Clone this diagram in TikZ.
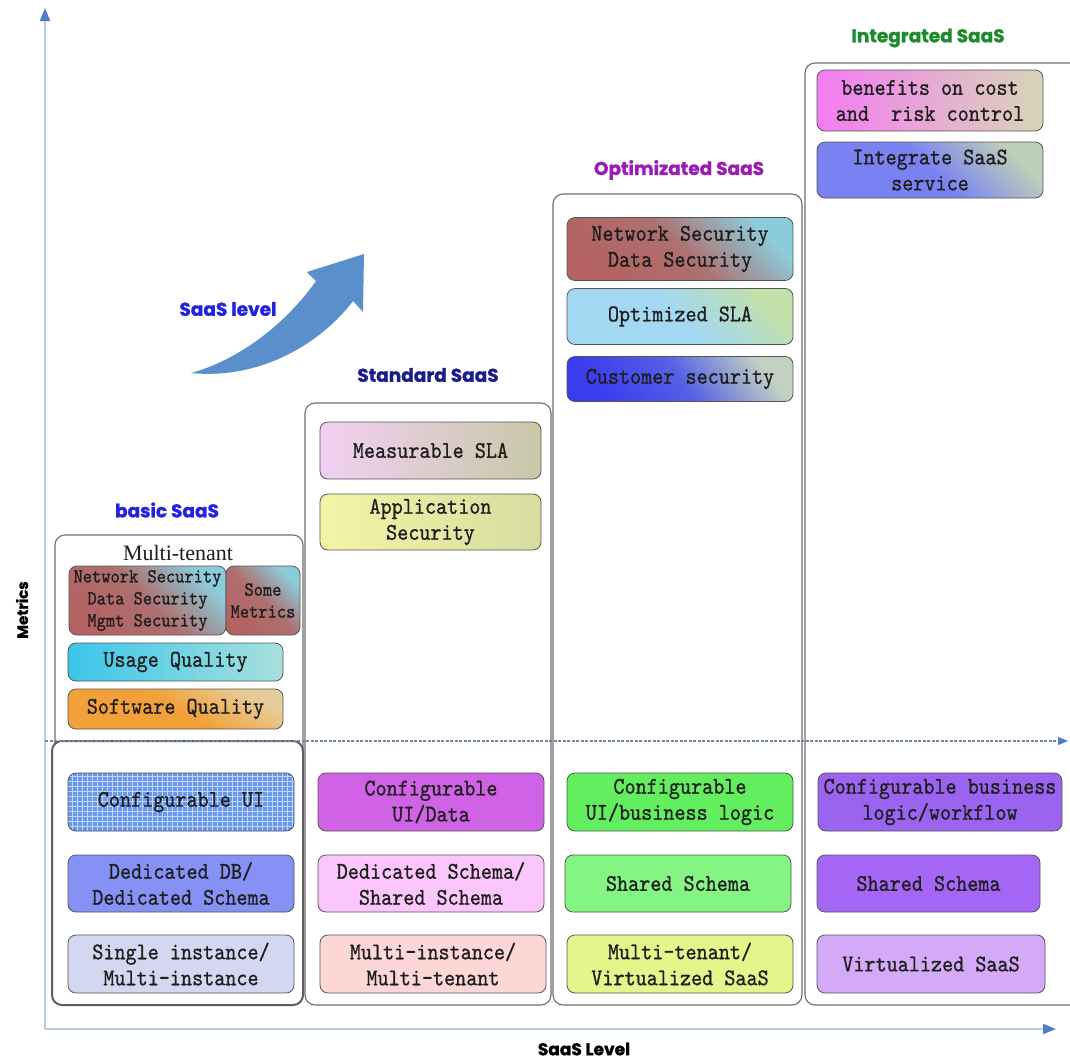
\documentclass[tikz,border=0pt]{standalone}
\usepackage{fontspec}
\usetikzlibrary{arrows.meta}

\newfontfamily\boxfont{lmmono10-regular.otf}[FakeStretch=0.88, FakeBold=0.8]
\newfontfamily\labelserif{Liberation Serif}
\newfontfamily\headfont{Poppins}[BoldFeatures={FakeBold=1.2}]

\newcommand\boxtext{\boxfont\fontsize{24}{26}\selectfont}
\newcommand\smalltext{\boxfont\fontsize{20}{22}\selectfont}
\newcommand\headtext{\headfont\bfseries\fontsize{18.5}{20}\selectfont}

% line and text colours
\definecolor{axisline}{HTML}{B7CAE6}
\definecolor{axistip}{HTML}{4F7EC2}
\definecolor{dashline}{HTML}{6F86A6}
\definecolor{framegray}{HTML}{6E6E6E}
\definecolor{lowerframe}{HTML}{5E5E5E}
\definecolor{cardedge}{HTML}{555555}
\definecolor{ink}{HTML}{1E1E1E}
\definecolor{hblue}{HTML}{2222E0}
\definecolor{hnavy}{HTML}{1C1C8C}
\definecolor{hpurple}{HTML}{9A1CB4}
\definecolor{hgreen}{HTML}{1E8A2E}
\definecolor{arrowblue}{HTML}{5A8FCC}
% shaded card colours
\definecolor{netbrown}{HTML}{B46262}
\definecolor{netblue}{HTML}{8CCCDA}
\definecolor{netmid}{HTML}{AE7070}
\definecolor{usageA}{HTML}{3AC6EA}
\definecolor{usageB}{HTML}{A8E0DE}
\definecolor{softA}{HTML}{F2A038}
\definecolor{softB}{HTML}{E6CE9C}
\definecolor{measA}{HTML}{F2D0F4}
\definecolor{measB}{HTML}{C8C8A6}
\definecolor{appA}{HTML}{F4F4A6}
\definecolor{appB}{HTML}{D6DDA0}
\definecolor{slaA}{HTML}{A2D8F2}
\definecolor{slaB}{HTML}{C2E0AA}
\definecolor{custA}{HTML}{3A3CF0}
\definecolor{custB}{HTML}{C2D2C2}
\definecolor{custM}{HTML}{5560E6}
\definecolor{benA}{HTML}{F47CF2}
\definecolor{benB}{HTML}{D8D6B6}
\definecolor{integA}{HTML}{7A82F2}
\definecolor{integB}{HTML}{BCCFB8}
% flat card colours
\definecolor{cuiblue}{HTML}{6699EE}
\definecolor{gridline}{HTML}{C5D6F8}
\definecolor{dedDB}{HTML}{8591F4}
\definecolor{singleInst}{HTML}{D4D7F0}
\definecolor{stdCfg}{HTML}{D062E6}
\definecolor{stdSchema}{HTML}{FBC6FB}
\definecolor{stdMulti}{HTML}{FDD7D6}
\definecolor{optCfg}{HTML}{62EE5E}
\definecolor{optSchema}{HTML}{84F482}
\definecolor{optMulti}{HTML}{E4F58C}
\definecolor{intCfg}{HTML}{9A64F0}
\definecolor{intSchema}{HTML}{A566F6}
\definecolor{intVirt}{HTML}{D3A9F8}

\tikzset{
  frame/.style={draw=framegray, line width=1.1pt, rounded corners=10pt},
  card/.style={draw=cardedge, line width=0.8pt, rounded corners=8pt,
    inner sep=0pt, align=center, font=\boxtext, text=ink},
  head/.style={font=\headtext, inner sep=0pt},
  axis/.style={draw=axisline, line width=1.8pt,
    -{Triangle[length=13pt, width=10pt, color=axistip]}},
  netshade/.style={top color=netblue, bottom color=netbrown, middle color=netmid, shading angle=-45},
}

\begin{document}
\begin{tikzpicture}[x=1pt, y=-1pt]
  \path[use as bounding box] (0,0) rectangle (1070,1063);
  \clip (0,0) rectangle (1070,1063);
  \fill[white] (0,0) rectangle (1070,1063);

  % axes
  \coordinate (origin) at (45,1029);
  \coordinate (ytop) at (45,8);
  \coordinate (xend) at (1056,1029);
  \draw[axis] (origin) -- (ytop);
  \draw[axis] (origin) -- (xend);

  % column frames
  \draw[frame] (55,535) rectangle (303,1005);
  \draw[frame] (305,403) rectangle (551,1005);
  \draw[frame] (553,194) rectangle (802,1005);
  \draw[frame] (805,63) rectangle (1095,1005);
  \draw[draw=lowerframe, fill=white, line width=2pt, rounded corners=10pt] (52,741) rectangle (303,1005);

  % dashed divider
  \coordinate (divL) at (45,741);
  \coordinate (divR) at (1068,741);
  \draw[draw=dashline, line width=1.2pt, dash pattern=on 3pt off 1.5pt,
    -{Triangle[length=10pt, width=8pt, color=axistip]}] (divL) -- (divR);

  % curved level arrow
  \fill[arrowblue] (191,373) .. controls (245,358) and (290,318) .. (316,281)
     -- (307,272) -- (364,254) -- (363,312) -- (353,301)
     .. controls (322,342) and (262,380) .. (191,373) -- cycle;
  \node[head, text=hblue] (lvl) at (228,309) {SaaS level};

  % headings and axis titles
  \node[head, text=hblue] (hBasic) at (167,510) {basic SaaS};
  \node[head, text=hnavy] (hStd) at (428,375) {Standard SaaS};
  \node[head, text=hpurple] (hOpt) at (679,170) {Optimizated SaaS};
  \node[head, text=hgreen] (hInt) at (928,38) {Integrated SaaS};
  \node[head, text=black, font=\headfont\bfseries\fontsize{15}{16}\selectfont, rotate=90] (yTitle) at (22,610) {Metrics};
  \node[head, text=black, font=\headfont\bfseries\fontsize{17}{19}\selectfont] (xTitle) at (584,1049) {SaaS Level};

  % basic SaaS, upper part
  \node[inner sep=0pt, text=ink, font=\labelserif\fontsize{22}{24}\selectfont] (bMT) at (178,553) {Multi-tenant};
  \node[card, font=\smalltext, minimum width=157pt, minimum height=69pt, netshade] (bNet) at (147.5,600.5) {Network Security\\Data Security\\Mgmt Security};
  \node[card, font=\smalltext, minimum width=74pt, minimum height=69pt, netshade] (bMet) at (263,600.5) {Some\\Metrics};
  \node[card, minimum width=215pt, minimum height=38pt, left color=usageA, right color=usageB] (bUse) at (175.5,662) {Usage Quality};
  \node[card, minimum width=215pt, minimum height=40pt, bottom color=softA, top color=softB, middle color=softA, shading angle=-30] (bSoft) at (175.5,709) {Software Quality};

  % basic SaaS, lower part
  \node[card, fill=cuiblue, minimum width=226pt, minimum height=58pt,
    path picture={\draw[gridline, line width=0.8pt, step=5pt]
      (path picture bounding box.south west) grid (path picture bounding box.north east);}]
    (bCfg) at (181,802) {Configurable UI};
  \node[card, fill=dedDB, minimum width=226pt, minimum height=57pt] (bDB) at (181,883.5) {Dedicated DB/\\Dedicated Schema};
  \node[card, fill=singleInst, minimum width=226pt, minimum height=58pt] (bInst) at (181,964) {Single instance/\\Multi-instance};

  % standard SaaS
  \node[card, minimum width=221pt, minimum height=57pt, left color=measA, right color=measB] (sSLA) at (430.5,450.5) {Measurable SLA};
  \node[card, minimum width=221pt, minimum height=56pt, left color=appA, right color=appB] (sApp) at (430.5,522) {Application\\Security};
  \node[card, fill=stdCfg, minimum width=226pt, minimum height=58pt] (sCfg) at (431,802) {Configurable\\UI/Data};
  \node[card, fill=stdSchema, minimum width=226pt, minimum height=57pt] (sSchema) at (431,883.5) {Dedicated Schema/\\Shared Schema};
  \node[card, fill=stdMulti, minimum width=226pt, minimum height=58pt] (sMulti) at (433,964) {Multi-instance/\\Multi-tenant};

  % optimizated SaaS
  \node[card, minimum width=226pt, minimum height=63pt, netshade] (oNet) at (680,249) {Network Security\\Data Security};
  \node[card, minimum width=226pt, minimum height=56pt, bottom color=slaA, top color=slaB, middle color=slaA, shading angle=-45] (oSLA) at (680,316.5) {Optimized SLA};
  \node[card, minimum width=226pt, minimum height=45pt, bottom color=custA, top color=custB, middle color=custM, shading angle=-55] (oCust) at (680,379) {Customer security};
  \node[card, fill=optCfg, minimum width=226pt, minimum height=58pt] (oCfg) at (680,802) {Configurable\\UI/business logic};
  \node[card, fill=optSchema, minimum width=226pt, minimum height=57pt] (oSchema) at (678,883.5) {Shared Schema};
  \node[card, fill=optMulti, minimum width=226pt, minimum height=58pt] (oMulti) at (680,964) {Multi-tenant/\\Virtualized SaaS};

  % integrated SaaS
  \node[card, minimum width=226pt, minimum height=61pt, left color=benA, right color=benB] (iBen) at (930,100.5) {benefits on cost\\and~ risk control};
  \node[card, minimum width=226pt, minimum height=56pt, bottom color=integA, top color=integB, middle color=integA, shading angle=-45] (iServ) at (930,170) {Integrate SaaS\\service};
  \node[card, fill=intCfg, minimum width=244pt, minimum height=58pt] (iCfg) at (940,802) {Configurable business\\logic/workflow};
  \node[card, fill=intSchema, minimum width=223pt, minimum height=57pt] (iSchema) at (928.5,883.5) {Shared Schema};
  \node[card, fill=intVirt, minimum width=228pt, minimum height=58pt] (iVirt) at (931,964) {Virtualized SaaS};
\end{tikzpicture}
\end{document}
